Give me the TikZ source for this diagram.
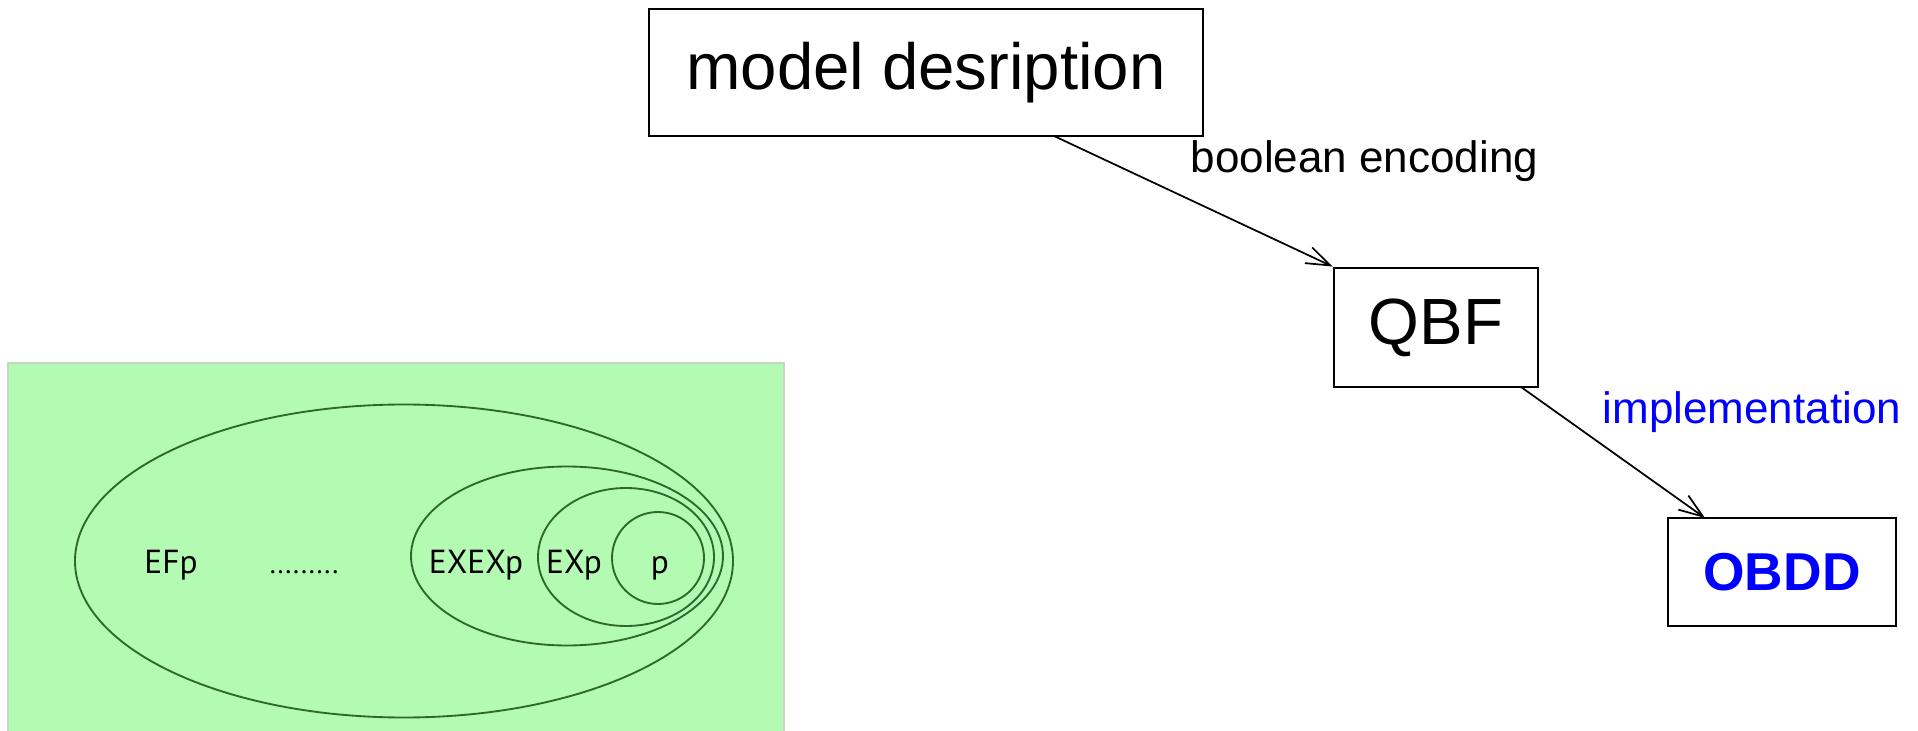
\documentclass[tikz,border=0pt]{standalone}
\usepackage{fontspec}
\setmainfont{Liberation Sans}
\newfontfamily\setfont{PT Sans}
\usetikzlibrary{arrows.meta}
\definecolor{panelgreen}{RGB}{179,250,179}
\definecolor{panelrim}{RGB}{195,215,195}
\definecolor{setline}{RGB}{45,105,45}
\definecolor{implblue}{RGB}{0,0,255}
\begin{document}
\begin{tikzpicture}[x=0.75pt,y=-0.75pt,
  stagebox/.style={draw, line width=2.2pt, inner sep=0pt, font=\fontsize{49}{55}\selectfont},
  flow/.style={line width=1.3pt, -{Straight Barb[length=18pt,width=13pt,line width=1.3pt]}},
  steplabel/.style={anchor=base west, font=\fontsize{33}{38}\selectfont},
  setring/.style={draw=setline, line width=1.4pt},
  setlabel/.style={anchor=base, font=\setfont\fontsize{25}{29}\selectfont}]
\useasboundingbox (0,0) rectangle (1918,731);

% pipeline of representations
\node[stagebox, minimum width=415.5pt, minimum height=95.25pt] (model) at (926,72.5) {model desription};
\node[stagebox, minimum width=153pt, minimum height=89.25pt] (qbf) at (1436,327.5) {QBF};
\node[stagebox, minimum width=171pt, minimum height=81pt, text=implblue, font=\bfseries\fontsize{40}{46}\selectfont] (obdd) at (1782,572) {OBDD};

\coordinate (modelout) at (1054,136);
\coordinate (qbfout) at (1521,387);
\coordinate (obddin) at (1705,518);
\draw[flow] (modelout) -- (qbf.north west);
\draw[flow] (qbfout) -- (obddin);

\node[steplabel] (enc) at (1186,173) {boolean encoding};
\node[steplabel, text=implblue] (impl) at (1598,423) {implementation};

% nested sets of states
\fill[panelgreen, draw=panelrim, line width=1.2pt] (8,363) rectangle (784,740);
\draw[setring] (404,561) ellipse [x radius=329, y radius=156.5];
\draw[setring] (567,556) ellipse [x radius=156, y radius=89.5];
\draw[setring] (626,557) ellipse [x radius=88, y radius=69];
\draw[setring] (658,558) ellipse [x radius=46, y radius=46];

\node[setlabel] (ef) at (171,573) {EFp};
\node[setlabel, font=\setfont\fontsize{21}{25}\selectfont] (dots) at (304,573) {.........};
\node[setlabel] (exex) at (476,573) {EXEXp};
\node[setlabel] (ex) at (574,573) {EXp};
\node[setlabel] (p) at (660,573) {p};
\end{tikzpicture}
\end{document}
